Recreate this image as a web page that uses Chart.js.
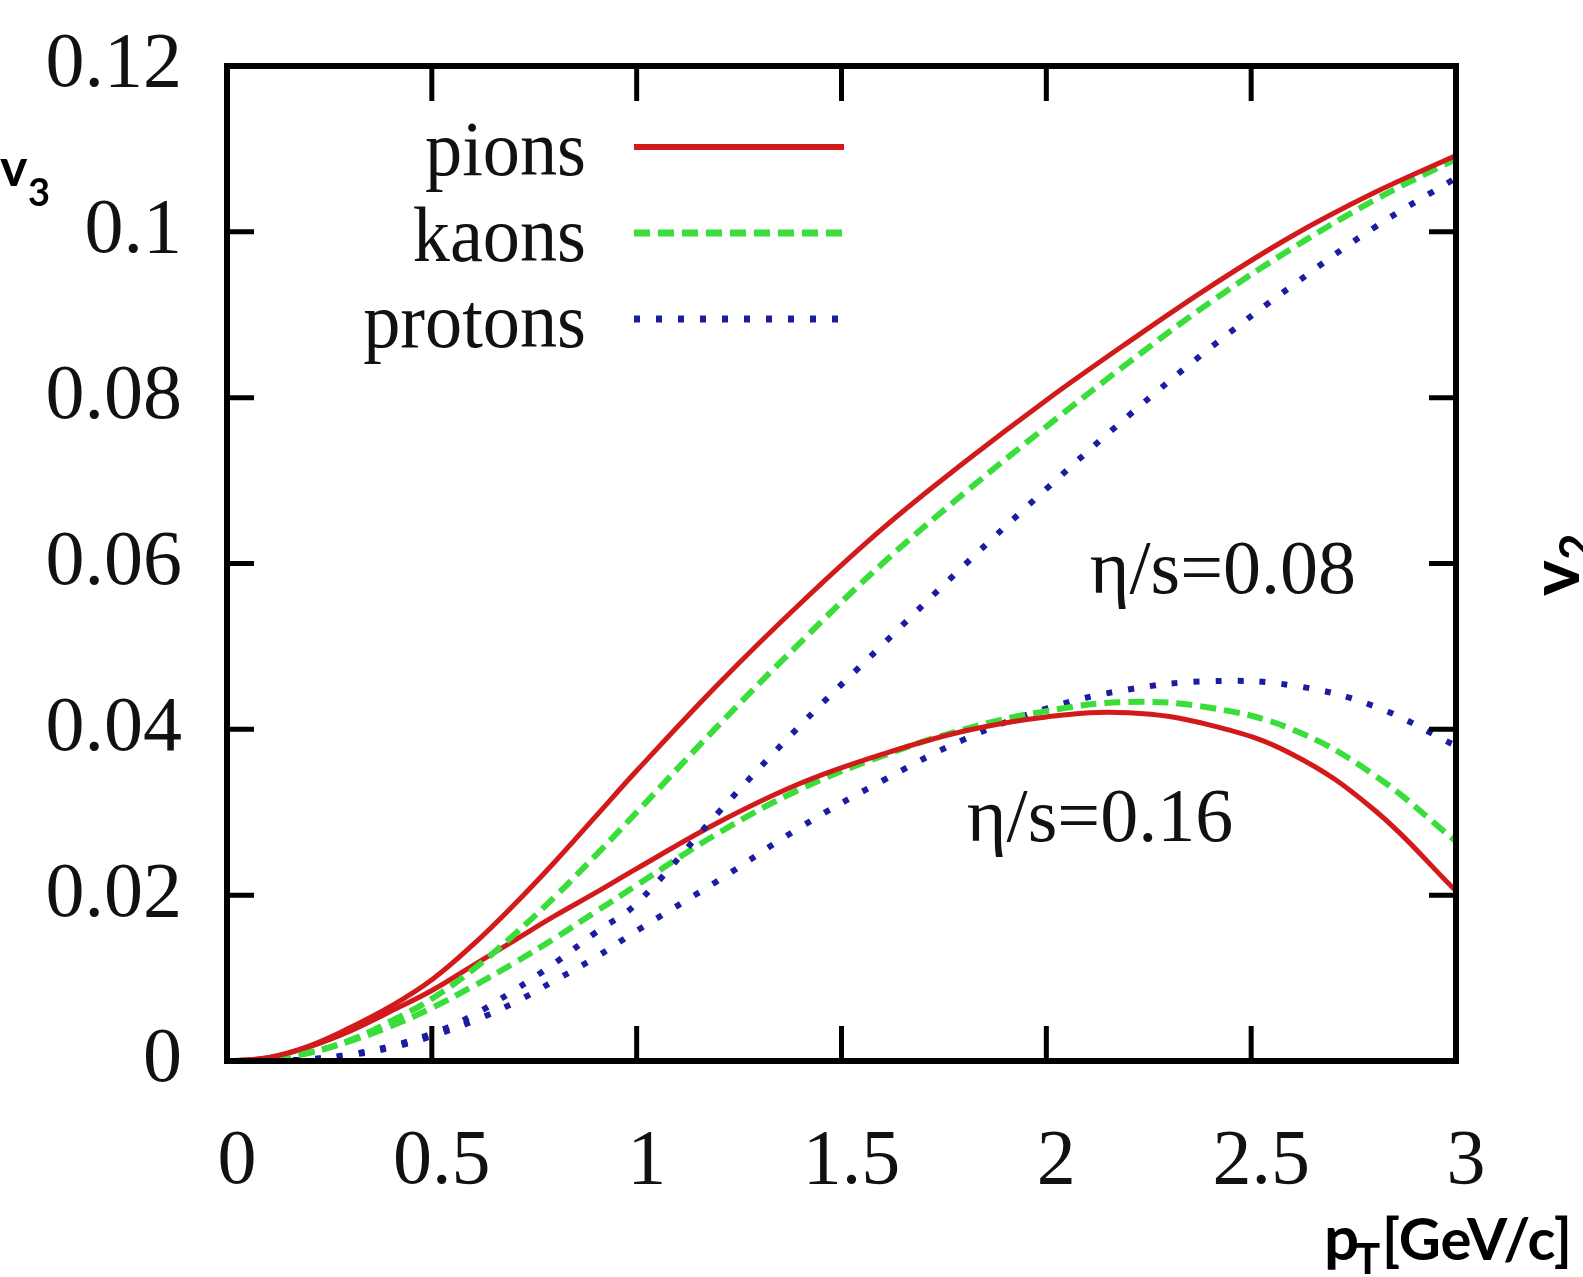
<!DOCTYPE html>
<html>
<head>
<meta charset="utf-8">
<script src="https://cdn.jsdelivr.net/npm/chart.js@4.4.0/dist/chart.umd.min.js"></script>
<style>
  html, body { margin: 0; padding: 0; background: #fff; }
  canvas { display: block; }
</style>
</head>
<body>
<canvas id="chart" width="1583" height="1277"></canvas>
<script>
// transverse momentum grid (GeV/c)
const pT = [0, 0.1, 0.2, 0.3, 0.4, 0.5, 0.6, 0.7, 0.8, 0.9, 1.0,
            1.2, 1.4, 1.6, 1.8, 2.0, 2.2, 2.4, 2.6, 2.8, 3.0];

// v3 for eta/s = 0.08
const pions008   = [0, 0.0004, 0.0018, 0.0040, 0.0066, 0.0098, 0.0140, 0.0188, 0.0240, 0.0295, 0.0350,
                    0.0455, 0.0552, 0.0642, 0.0722, 0.0797, 0.0867, 0.0934, 0.0995, 0.1047, 0.1092];
const kaons008   = [0, 0.0002, 0.0010, 0.0025, 0.0048, 0.0075, 0.0110, 0.0152, 0.0198, 0.0248, 0.0300,
                    0.0405, 0.0505, 0.0600, 0.0685, 0.0765, 0.0842, 0.0915, 0.0980, 0.1038, 0.1088];
const protons008 = [0, 0.0000, 0.0002, 0.0008, 0.0018, 0.0033, 0.0055, 0.0085, 0.0118, 0.0155, 0.0190,
                    0.0300, 0.0405, 0.0502, 0.0598, 0.0690, 0.0778, 0.0860, 0.0935, 0.1005, 0.1065];

// v3 for eta/s = 0.16
const pions016   = [0, 0.0004, 0.0017, 0.0036, 0.0060, 0.0085, 0.0115, 0.0145, 0.0175, 0.0203, 0.0232,
                    0.0288, 0.0335, 0.0370, 0.0398, 0.0415, 0.0420, 0.0405, 0.0370, 0.0303, 0.0205];
const kaons016   = [0, 0.0002, 0.0010, 0.0024, 0.0042, 0.0064, 0.0090, 0.0118, 0.0148, 0.0180, 0.0212,
                    0.0275, 0.0328, 0.0368, 0.0400, 0.0422, 0.0433, 0.0426, 0.0400, 0.0345, 0.0265];
const protons016 = [0, 0.0000, 0.0002, 0.0007, 0.0016, 0.0030, 0.0048, 0.0070, 0.0097, 0.0125, 0.0157,
                    0.0218, 0.0282, 0.0338, 0.0388, 0.0425, 0.0448, 0.0458, 0.0453, 0.0428, 0.0380];

const xTickLabels = ["0", "0.5", "1", "1.5", "2", "2.5", "3"];
const yTickLabels = ["0", "0.02", "0.04", "0.06", "0.08", "0.1", "0.12"];

const RED = "#d21a1a";
const GREEN = "#3ade3a";
const BLUE = "#1c1ca0";
const SERIF = "'Liberation Serif', 'Times New Roman', serif";
const SANS = "Lato, 'Open Sans', sans-serif";

const toPoints = (ys) => ys.map((v, i) => ({ x: pT[i], y: v }));

const styles = {
    pions:   { borderColor: RED,   borderWidth: 5, borderDash: [] },
    kaons:   { borderColor: GREEN, borderWidth: 6, borderDash: [16, 8] },
    protons: { borderColor: BLUE,  borderWidth: 6, borderDash: [6, 16] },
};

const series = [
    ["pions", pions008], ["kaons", kaons008], ["protons", protons008],
    ["pions", pions016], ["kaons", kaons016], ["protons", protons016],
];

const datasets = series.map(([name, ys]) => ({
    label: name,
    data: toPoints(ys),
    ...styles[name],
    borderCapStyle: "butt",
    pointRadius: 0,
    fill: false,
    tension: 0.4,
}));

// box with inward ticks on all four sides
const frame = {
    id: "frame",
    afterDatasetsDraw(chart) {
        const { ctx, chartArea: a, scales: { x, y } } = chart;
        ctx.save();
        ctx.strokeStyle = "#000";
        ctx.lineWidth = 5;
        ctx.beginPath();
        x.ticks.forEach((t) => {
            const px = x.getPixelForValue(t.value);
            ctx.moveTo(px, a.bottom); ctx.lineTo(px, a.bottom - 35);
            ctx.moveTo(px, a.top); ctx.lineTo(px, a.top + 35);
        });
        y.ticks.forEach((t) => {
            const py = y.getPixelForValue(t.value);
            ctx.moveTo(a.left, py); ctx.lineTo(a.left + 27, py);
            ctx.moveTo(a.right, py); ctx.lineTo(a.right - 27, py);
        });
        ctx.stroke();
        ctx.lineWidth = 6;
        ctx.strokeRect(a.left, a.top, a.right - a.left, a.bottom - a.top);
        ctx.restore();
    },
};

// key in the upper left, text right-aligned before the line sample
const key = {
    id: "key",
    afterDraw(chart) {
        const { ctx, chartArea: a } = chart;
        ctx.save();
        chart.data.datasets.slice(0, 3).forEach((ds, i) => {
            const yMid = a.top + 81 + i * 86;
            ctx.save();
            ctx.translate(a.left + 359, yMid + 28);
            ctx.scale(0.94, 1);
            ctx.font = "79px " + SERIF;
            ctx.fillStyle = "#111";
            ctx.textAlign = "right";
            ctx.textBaseline = "alphabetic";
            ctx.fillText(ds.label, 0, 0);
            ctx.restore();
            ctx.beginPath();
            ctx.strokeStyle = ds.borderColor;
            ctx.lineWidth = ds.borderWidth + 1;
            ctx.lineCap = "butt";
            ctx.setLineDash(ds.borderDash);
            ctx.moveTo(a.left + 407, yMid);
            ctx.lineTo(a.left + 617, yMid);
            ctx.stroke();
        });
        ctx.restore();
    },
};

// viscosity labels and the axis titles around the frame
const labels = {
    id: "labels",
    afterDraw(chart) {
        const { ctx, scales: { x, y } } = chart;
        ctx.save();
        ctx.fillStyle = "#111";
        ctx.textBaseline = "alphabetic";
        ctx.textAlign = "left";
        ctx.font = "76px " + SERIF;
        ctx.fillText("η/s=0.08", x.getPixelForValue(2.106), y.getPixelForValue(0.0564));
        ctx.fillText("η/s=0.16", x.getPixelForValue(1.806), y.getPixelForValue(0.0265));

        ctx.fillStyle = "#000";
        ctx.font = "bold 52px " + SANS;
        ctx.fillText("v", 0, 186);
        ctx.font = "bold 38px " + SANS;
        ctx.fillText("3", 28, 206);

        ctx.font = "bold 62px " + SANS;
        ctx.fillText("p", 1324, 1260);
        ctx.font = "bold 42px " + SANS;
        ctx.fillText("T", 1355, 1274);
        ctx.font = "bold 58px " + SANS;
        ctx.fillText("[GeV/c]", 1382, 1260);

        ctx.translate(1579, 596);
        ctx.rotate(-Math.PI / 2);
        ctx.font = "bold 68px " + SANS;
        ctx.fillText("v", 0, 0);
        ctx.font = "bold 46px " + SANS;
        ctx.fillText("2", 36, 13);
        ctx.restore();
    },
};

const tickFont = { family: SERIF, size: 78 };

new Chart(document.getElementById("chart"), {
    type: "line",
    data: { datasets },
    options: {
        responsive: false,
        animation: false,
        layout: { padding: { top: 66, right: 127, left: 0, bottom: 0 } },
        scales: {
            x: {
                type: "linear",
                min: 0,
                max: 3,
                afterFit: (s) => { s.height = 216; },
                grid: { display: false, drawTicks: true, tickLength: 55 },
                border: { display: false },
                ticks: {
                    stepSize: 0.5,
                    font: tickFont,
                    color: "#111",
                    padding: 0,
                    labelOffset: 10,
                    maxRotation: 0,
                    callback: (v, i) => xTickLabels[i],
                },
            },
            y: {
                type: "linear",
                min: 0,
                max: 0.12,
                afterFit: (s) => { s.width = 227; },
                grid: { display: false, drawTicks: true, tickLength: 45 },
                border: { display: false },
                ticks: {
                    stepSize: 0.02,
                    font: tickFont,
                    color: "#111",
                    padding: 0,
                    callback: (v, i) => yTickLabels[i],
                },
            },
        },
        plugins: {
            legend: { display: false },
            tooltip: { enabled: false },
        },
    },
    plugins: [frame, key, labels],
});
</script>
</body>
</html>
